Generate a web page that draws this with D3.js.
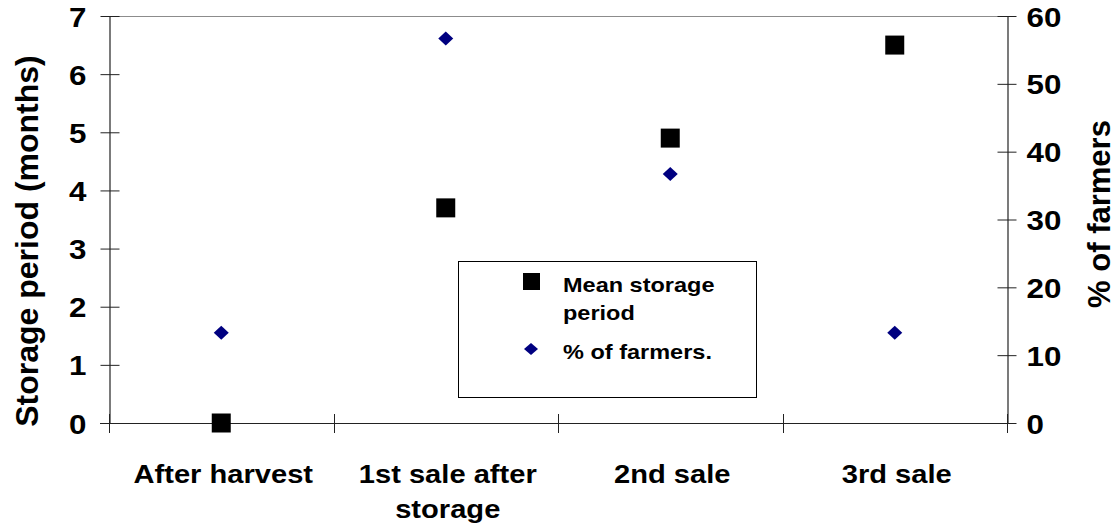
<!DOCTYPE html>
<html>
<head>
<meta charset="utf-8">
<script src="https://cdn.jsdelivr.net/npm/d3@7"></script>
<style>
  body { margin: 0; background: #fff; }
  svg { display: block; }
  text { font-family: "Liberation Sans", Arial, Helvetica, sans-serif; font-weight: bold; fill: #000; }
</style>
</head>
<body>
<svg id="chart" width="1117" height="525"></svg>
<script>
// Sale stages (each entry holds the lines of its label)
const categories = [["After harvest"], ["1st sale after", "storage"], ["2nd sale"], ["3rd sale"]];
// Mean storage period, months (left axis)
const storageMonths = [0, 3.7, 4.9, 6.5];
// Share of farmers, % (right axis)
const farmerPct = [13.3, 56.7, 36.7, 13.3];
const leftTicks = [0, 1, 2, 3, 4, 5, 6, 7];
const rightTicks = [0, 10, 20, 30, 40, 50, 60];
const seriesNames = [["Mean storage", "period"], ["% of farmers."]];
const leftTitle = "Storage period (months)";
const rightTitle = "% of farmers";

const svg = d3.select("#chart");
const plot = { left: 109, right: 1007, top: 16, bottom: 423 };
const WIDE = 1.12; // horizontal stretch of the bold lettering

const x = d3.scaleBand().domain(d3.range(categories.length)).range([plot.left, plot.right]);
const yL = d3.scaleLinear().domain([0, 7]).range([plot.bottom, plot.top]);
const yR = d3.scaleLinear().domain([0, 60]).range([plot.bottom, plot.top]);

// top frame line
svg.append("line")
  .attr("x1", plot.left).attr("x2", plot.right)
  .attr("y1", plot.top + 0.5).attr("y2", plot.top + 0.5)
  .attr("stroke", "#8c8c8c").attr("stroke-width", 1.2);

// left axis
const gL = svg.append("g").attr("transform", `translate(${plot.left + 0.5},0)`)
  .call(d3.axisLeft(yL).tickValues(leftTicks).tickSize(9).tickSizeOuter(0).tickFormat(d3.format("d")));
gL.select(".domain").attr("stroke", "#222").attr("stroke-width", 1.2);
gL.selectAll(".tick line").attr("x1", 10).attr("x2", -9).attr("stroke", "#222");
gL.selectAll(".tick text")
  .attr("x", 0).attr("dy", null).attr("y", 0)
  .attr("font-size", 28).attr("text-anchor", "end")
  .attr("transform", `translate(-23,10) scale(${WIDE},1)`)
  .style("font-family", null);

// right axis
const gR = svg.append("g").attr("transform", `translate(${plot.right + 0.5},0)`)
  .call(d3.axisRight(yR).tickValues(rightTicks).tickSize(9).tickSizeOuter(0).tickFormat(d3.format("d")));
gR.select(".domain").attr("stroke", "#222").attr("stroke-width", 1.2);
gR.selectAll(".tick line").attr("x1", -10).attr("x2", 9).attr("stroke", "#222");
gR.selectAll(".tick text")
  .attr("x", 0).attr("dy", null).attr("y", 0)
  .attr("font-size", 28).attr("text-anchor", "start")
  .attr("transform", `translate(19,10) scale(${WIDE},1)`)
  .style("font-family", null);

// bottom axis with ticks on category boundaries
svg.append("line")
  .attr("x1", plot.left - 9).attr("x2", plot.right + 9)
  .attr("y1", yL(0) + 0.5).attr("y2", yL(0) + 0.5)
  .attr("stroke", "#222").attr("stroke-width", 1.2);
const bounds = categories.map((_, i) => x(i)).concat([x.range()[1]]);
svg.append("g").selectAll("line").data(bounds).join("line")
  .attr("x1", d => Math.round(d) + 0.5).attr("x2", d => Math.round(d) + 0.5)
  .attr("y1", yL(0) - 9).attr("y2", yL(0) + 10)
  .attr("stroke", "#222");

// category labels
const catG = svg.append("g").selectAll("g").data(categories).join("g")
  .attr("transform", (d, i) => `translate(${x(i) + x.bandwidth() / 2 + 2},${yL(0) + 60}) scale(${WIDE},1)`);
catG.append("text")
  .attr("text-anchor", "middle").attr("font-size", 26)
  .selectAll("tspan").data(d => d).join("tspan")
  .attr("x", 0).attr("y", (d, j) => j * 35)
  .text(d => d);

// axis titles
svg.append("text")
  .attr("transform", `translate(38,241) rotate(-90)`)
  .attr("text-anchor", "middle").attr("font-size", 32)
  .text(leftTitle);
svg.append("text")
  .attr("transform", `translate(1110,214) rotate(-90)`)
  .attr("text-anchor", "middle").attr("font-size", 31)
  .text(rightTitle);

// marker shapes
const squarePath = s => `M${-s / 2},${-s / 2}h${s}v${s}h${-s}Z`;
const diamondPath = (w, h) => `M0,${-h / 2}L${w / 2},0L0,${h / 2}L${-w / 2},0Z`;

// mean storage period (squares)
svg.append("g").selectAll("path").data(storageMonths).join("path")
  .attr("transform", (d, i) => `translate(${x(i) + x.bandwidth() / 2},${yL(d)})`)
  .attr("d", squarePath(19))
  .attr("fill", "#000");

// % of farmers (diamonds)
svg.append("g").selectAll("path").data(farmerPct).join("path")
  .attr("transform", (d, i) => `translate(${x(i) + x.bandwidth() / 2},${yR(d)})`)
  .attr("d", diamondPath(15, 14))
  .attr("fill", "#000080");

// legend
const lg = svg.append("g").attr("transform", "translate(458,261)");
lg.append("rect").attr("x", 0.5).attr("y", 0.5).attr("width", 298).attr("height", 136)
  .attr("fill", "#fff").attr("stroke", "#000").attr("stroke-width", 1);
lg.append("path").attr("transform", "translate(73.5,20.5)").attr("d", squarePath(17)).attr("fill", "#000");
lg.append("path").attr("transform", "translate(73,88)").attr("d", diamondPath(14, 12)).attr("fill", "#000080");
const lgLines = [
  { t: seriesNames[0][0], y: 31 },
  { t: seriesNames[0][1], y: 59 },
  { t: seriesNames[1][0], y: 98 }
];
lg.selectAll("text.item").data(lgLines).join("text")
  .attr("class", "item")
  .attr("transform", d => `translate(105,${d.y}) scale(${WIDE},1)`)
  .attr("font-size", 21)
  .text(d => d.t);
</script>
</body>
</html>
